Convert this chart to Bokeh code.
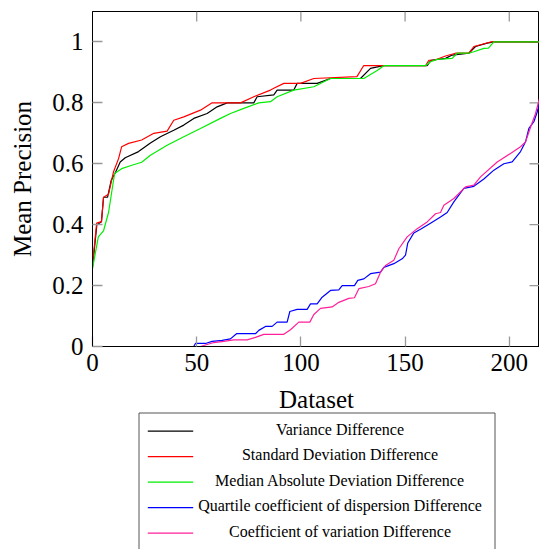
from bokeh.plotting import figure
from bokeh.models import Range1d, FixedTicker, CustomJSTickFormatter
from bokeh.layouts import column
from bokeh.core.properties import value
from bokeh.embed import file_html
from bokeh.resources import INLINE

# ---------------- data ----------------
series_names = [
    "Variance Difference",
    "Standard Deviation Difference",
    "Median Absolute Deviation Difference",
    "Quartile coefficient of dispersion Difference",
    "Coefficient of variation Difference",
]
series_colors = ["#000000", "#ff0000", "#00ee00", "#0000ff", "#ff1f9a"]

var_x = [0, 2.1, 4.3, 5.3, 7.2, 9.0, 10.9, 13.3, 15.7, 22.1, 27.8, 32.6, 39.0, 43.8, 48.6,
         55.0, 59.8, 64.6, 77.4, 79.0, 87.0, 88.6, 96.6, 98.2, 107.8, 114.2, 128.6, 133.4,
         139.6, 160.6, 162.4, 169.4, 172.6, 180.6, 183.8, 189.4, 192.6, 214.5]
var_y = [0.26, 0.40, 0.41, 0.49, 0.49, 0.546, 0.57, 0.606, 0.62, 0.64, 0.668, 0.689, 0.71,
         0.727, 0.749, 0.765, 0.787, 0.80, 0.80, 0.82, 0.826, 0.842, 0.842, 0.864, 0.864,
         0.88, 0.88, 0.913, 0.922, 0.922, 0.94, 0.946, 0.957, 0.963, 0.985, 0.996, 1.0, 1.0]

std_x = [0, 2.0, 4.3, 5.3, 7.7, 10.1, 12.5, 14.0, 17.3, 23.6, 29.4, 35.8, 39.0, 43.8, 51.8,
         57.4, 71.0, 77.4, 85.4, 87.0, 91.8, 99.8, 106.2, 126.9, 130.1, 159.8, 161.4, 164.0,
         169.4, 174.2, 180.6, 183.0, 191.0, 214.5]
std_y = [0.27, 0.405, 0.41, 0.49, 0.50, 0.574, 0.617, 0.656, 0.667, 0.678, 0.70, 0.707,
         0.743, 0.754, 0.776, 0.80, 0.80, 0.82, 0.842, 0.848, 0.864, 0.864, 0.88, 0.886,
         0.922, 0.922, 0.94, 0.94, 0.954, 0.963, 0.963, 0.985, 1.0, 1.0]

mad_x = [0, 2.8, 5.3, 7.7, 10.6, 14.0, 18.9, 23.6, 27.8, 35.8, 43.8, 51.8, 61.4, 66.2, 72.6,
         79.8, 85.4, 88.6, 96.6, 106.2, 114.2, 130.2, 136.6, 139.8, 159.8, 162.2, 165.4,
         172.6, 175.0, 180.6, 183.0, 187.8, 190.0, 192.6, 214.5]
mad_y = [0.256, 0.36, 0.38, 0.44, 0.568, 0.584, 0.595, 0.605, 0.628, 0.661, 0.689, 0.716,
         0.749, 0.765, 0.782, 0.80, 0.804, 0.82, 0.842, 0.853, 0.88, 0.88, 0.906, 0.922,
         0.922, 0.935, 0.943, 0.946, 0.963, 0.963, 0.968, 0.979, 0.98, 1.0, 1.0]

qcd_x = [0, 48.6, 49.4, 54.2, 57.4, 62.2, 66.2, 69.1, 78.2, 79.8, 83.0, 86.2, 88.6, 93.4,
         94.7, 98.2, 103.0, 104.6, 107.8, 110.2, 114.2, 118.2, 119.8, 125.7, 127.3, 130.2,
         133.4, 138.2, 139.8, 144.6, 148.6, 150.2, 151.3, 154.2, 157.4, 162.2, 167.0, 170.2,
         173.4, 178.2, 183.0, 187.8, 192.6, 197.4, 201.4, 205.4, 207.8, 209.4, 211.8, 213.4,
         214.5]
qcd_y = [0, 0, 0.01, 0.01, 0.017, 0.02, 0.025, 0.042, 0.042, 0.053, 0.066, 0.066, 0.08,
         0.08, 0.115, 0.122, 0.122, 0.14, 0.14, 0.162, 0.184, 0.186, 0.20, 0.20, 0.217,
         0.222, 0.239, 0.244, 0.26, 0.272, 0.288, 0.30, 0.34, 0.373, 0.385, 0.405, 0.425,
         0.44, 0.475, 0.519, 0.526, 0.55, 0.579, 0.60, 0.606, 0.64, 0.672, 0.716, 0.738,
         0.77, 0.80]

cv_x = [0, 51.8, 54.2, 58.2, 63.0, 67.8, 74.2, 78.2, 82.2, 91.8, 95.0, 99.0, 104.3, 106.2,
        109.4, 115.0, 118.2, 123.0, 125.7, 127.8, 132.6, 135.8, 138.2, 140.6, 144.6, 147.0,
        151.0, 155.8, 160.6, 164.6, 167.0, 168.6, 173.4, 179.0, 183.0, 186.2, 194.2, 200.6,
        205.4, 207.8, 210.2, 212.6, 214.5]
cv_y = [0, 0, 0.005, 0.013, 0.017, 0.022, 0.022, 0.03, 0.04, 0.04, 0.055, 0.08, 0.08, 0.105,
        0.125, 0.13, 0.145, 0.158, 0.16, 0.19, 0.197, 0.206, 0.244, 0.266, 0.283, 0.321,
        0.36, 0.387, 0.409, 0.436, 0.44, 0.464, 0.486, 0.524, 0.53, 0.557, 0.606, 0.634,
        0.656, 0.672, 0.72, 0.765, 0.815]

x_ticks = [0, 50, 100, 150, 200]
y_ticks = [0, 0.2, 0.4, 0.6, 0.8, 1.0]
x_max = 214.5
y_max = 1.1
x_label = "Dataset"
y_label = "Mean Precision"

all_x = [var_x, std_x, mad_x, qcd_x, cv_x]
all_y = [var_y, std_y, mad_y, qcd_y, cv_y]

FONT = "Liberation Serif"
TICK_COL = "#999999"

# ---------------- layout geometry (page pixels) ----------------
W = 539
H_TOTAL = 549
B_LEFT, B_TOP = 92, 11
H_MAIN = 384
B_BOTTOM = H_MAIN - 346
FRAME_W = W - B_LEFT
FRAME_H = H_MAIN - B_TOP - B_BOTTOM
TICK_PX = 10

# ---------------- main plot ----------------
p = figure(width=W, height=H_MAIN, x_range=Range1d(0, x_max), y_range=Range1d(0, y_max),
           output_backend="svg", toolbar_location=None,
           min_border_left=B_LEFT, min_border_right=0, min_border_top=B_TOP,
           min_border_bottom=B_BOTTOM)
p.xgrid.visible = False
p.ygrid.visible = False
p.outline_line_color = "black"
p.outline_line_width = 1
p.background_fill_color = "white"
p.border_fill_color = "white"

p.xaxis.ticker = FixedTicker(ticks=x_ticks)
p.yaxis.ticker = FixedTicker(ticks=y_ticks)
p.yaxis.formatter = CustomJSTickFormatter(code="return String(Math.round(tick*10)/10);")
p.yaxis.axis_label = y_label

for ax in [p.xaxis[0], p.yaxis[0]]:
    ax.major_tick_in = TICK_PX
    ax.major_tick_out = 0
    ax.major_tick_line_color = TICK_COL
    ax.major_tick_line_width = 1.3
    ax.minor_tick_line_color = None
    ax.axis_line_color = "black"
    ax.major_label_text_font = FONT
    ax.major_label_text_font_size = "25px"
    ax.major_label_text_color = "black"
    ax.axis_label_text_font = FONT
    ax.axis_label_text_font_size = "25px"
    ax.axis_label_text_font_style = "normal"
    ax.axis_label_text_color = "black"

p.xaxis.major_label_standoff = 7
p.yaxis.major_label_standoff = 9
p.yaxis.axis_label_standoff = 13

# inward ticks on the top and right edges (pgfplots box style)
dy = TICK_PX * y_max / FRAME_H
dx = TICK_PX * x_max / FRAME_W
top_t = x_ticks[1:]
right_t = y_ticks[1:]
p.segment(x0=top_t, y0=[y_max] * len(top_t), x1=top_t, y1=[y_max - dy] * len(top_t),
          line_color=TICK_COL, line_width=1.3)
p.segment(x0=[x_max] * len(right_t), y0=right_t, x1=[x_max - dx] * len(right_t), y1=right_t,
          line_color=TICK_COL, line_width=1.3)

for xs, ys, col in zip(all_x, all_y, series_colors):
    p.line(xs, ys, line_color=col, line_width=1.2)

# ---------------- x-axis title and legend panel (page-pixel coordinates) ----------------
H_LEG = H_TOTAL - H_MAIN
leg = figure(width=W, height=H_LEG, x_range=Range1d(B_LEFT, W), y_range=Range1d(H_TOTAL, H_MAIN),
             output_backend="svg", toolbar_location=None,
             min_border_left=B_LEFT, min_border_right=0, min_border_top=0, min_border_bottom=0,
             x_axis_location=None, y_axis_location=None)
leg.grid.visible = False
leg.outline_line_color = None
leg.background_fill_color = "white"
leg.border_fill_color = "white"

leg.text(x=[316], y=[399], text=[x_label], text_align="center", text_baseline="middle",
         text_font=value(FONT), text_font_size="25px", text_color="black")

box_l, box_r, box_t = 138.5, 494.5, 412.5
leg.line([box_l, box_l, box_r, box_r], [H_TOTAL, box_t, box_t, H_TOTAL],
         line_color="#555555", line_width=1)

n = len(series_names)
row_text = [428.8 + 25.5 * i for i in range(n)]
row_line = [430.7 + 25.5 * i for i in range(n)]
for name, col, yl in zip(series_names, series_colors, row_line):
    leg.line([147.3, 192.7], [yl, yl], line_color=col, line_width=1.3)
leg.text(x=[339.5] * n, y=row_text, text=series_names,
         text_align="center", text_baseline="middle", text_font=value(FONT),
         text_font_size="16px", text_color="black")

layout = column(p, leg, spacing=0)
open("out.html", "w").write(file_html(layout, INLINE))
